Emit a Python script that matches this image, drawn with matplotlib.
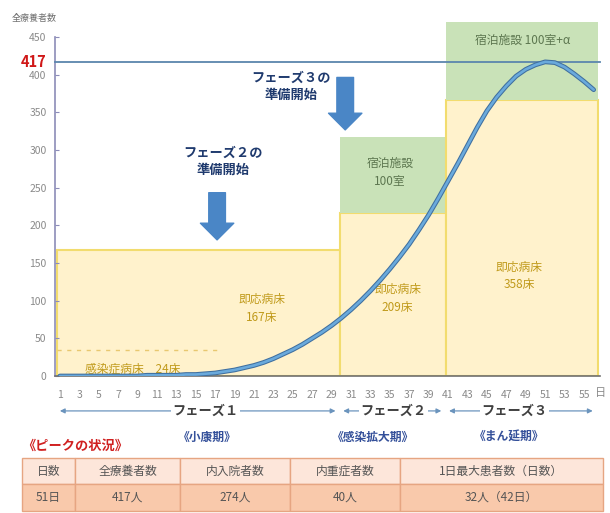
import matplotlib
matplotlib.use("Agg")
import matplotlib.pyplot as plt
from matplotlib.patches import Rectangle, FancyArrowPatch

plt.rcParams['font.family'] = ['Noto Sans CJK JP', 'DejaVu Sans']

# ---------------- data ----------------
days = list(range(1, 57))
patients = [0, 0, 0, 0, 0, 0, 0, 0, 0, 1,
            1, 1, 1, 2, 2, 3, 4, 6, 8, 11,
            14, 18, 23, 29, 35, 42, 50, 58, 67, 77,
            88, 100, 113, 127, 142, 158, 175, 194, 214, 236,
            259, 282, 306, 330, 352, 370, 385, 398, 407, 413,
            417, 416, 410, 401, 391, 380]
peak_value = 417
xtick_days = list(range(1, 56, 2))
yticks = [0, 50, 100, 150, 200, 250, 300, 350, 400, 450]

# phase boundaries (days)
phase_edges = [0.7, 29.9, 40.8, 56.4]
hospital_beds_top = [167, 217, 366]      # drawn heights of hospital-bed boxes
hotel_top = [None, 317, 470]             # drawn heights of hotel boxes
infection_beds_top = 34
infection_beds_end = 17.3
hospital_labels = ['即応病床\n167床', '即応病床\n209床', '即応病床\n358床']
hotel_labels = [None, '宿泊施設\n100室', '宿泊施設 100室+α']
infection_label = '感染症病床　24床'

phase_names = ['フェーズ１', 'フェーズ２', 'フェーズ３']
phase_periods = ['《小康期》', '《感染拡大期》', '《まん延期》']
prep_labels = ['フェーズ２の\n準備開始', 'フェーズ３の\n準備開始']
prep_days = [17.2, 30.4]
prep_arrow_from = [247, 400]
prep_arrow_to = [177, 323]

table_header = ['日数', '全療養者数', '内入院者数', '内重症者数', '1日最大患者数（日数）']
table_values = ['51日', '417人', '274人', '40人', '32人（42日）']

# ---------------- figure ----------------
W, H = 610, 513
fig = plt.figure(figsize=(W / 100, H / 100), dpi=100)
ax = fig.add_axes([55 / W, (H - 376) / H, 545 / W, 339 / H])
ax.set_xlim(0.5, 56.65)
ax.set_ylim(0, 450)

yellow_fill = '#fff2cc'
yellow_edge = '#f2dc6e'
green_fill = '#c9e2b8'
gold_text = '#c09a1a'
green_text = '#5d7750'

for i in range(3):
    x0, x1 = phase_edges[i], phase_edges[i + 1]
    ax.add_patch(Rectangle((x0, 0), x1 - x0, hospital_beds_top[i],
                           facecolor=yellow_fill, edgecolor=yellow_edge, lw=1.5, zorder=1))
    if hotel_top[i] is not None:
        ax.add_patch(Rectangle((x0, hospital_beds_top[i]), x1 - x0,
                               hotel_top[i] - hospital_beds_top[i],
                               facecolor=green_fill, edgecolor='none', zorder=1, clip_on=False))

# infection beds dashed line
ax.plot([phase_edges[0], infection_beds_end], [infection_beds_top, infection_beds_top],
        ls=(0, (3, 4)), color='#e8c870', lw=1, zorder=2)
ax.text(8.5, 9, infection_label, color=gold_text, fontsize=8.5, ha='center', va='center', zorder=3)

# box labels
ax.text(21.8, 90, hospital_labels[0], color=gold_text, fontsize=8.5, ha='center', va='center',
        linespacing=1.5, zorder=3)
ax.text(35.8, 103, hospital_labels[1], color=gold_text, fontsize=8.5, ha='center', va='center',
        linespacing=1.5, zorder=3)
ax.text(48.3, 133, hospital_labels[2], color=gold_text, fontsize=8.5, ha='center', va='center',
        linespacing=1.5, zorder=3)
ax.text(35.0, 270, hotel_labels[1], color=green_text, fontsize=8.5, ha='center', va='center',
        linespacing=1.5, zorder=3)
ax.text(48.7, 445, hotel_labels[2], color=green_text, fontsize=8.5, ha='center', va='center',
        zorder=3, clip_on=False)

# peak line
ax.axhline(peak_value, color='#5b86ad', lw=1.3, zorder=4, clip_on=False)
ax.text(-0.4, peak_value, str(peak_value), color='#d01818', fontsize=10.5, fontweight='bold',
        ha='right', va='center', transform=ax.transData, clip_on=False)

# curve
ax.plot(days, patients, color='#3f6f9f', lw=3.4, zorder=5, solid_capstyle='round')
ax.plot(days, patients, color='#6aaadc', lw=1.9, zorder=6, solid_capstyle='round')

# preparation arrows
for d, y0, y1 in zip(prep_days, prep_arrow_from, prep_arrow_to):
    arr = FancyArrowPatch((d, y0), (d, y1),
                          arrowstyle='simple,head_width=2.0,head_length=1.0,tail_width=1.0',
                          mutation_scale=12, facecolor='#4a86c6', edgecolor='#4a86c6', zorder=7)
    ax.add_patch(arr)
ax.text(17.8, 285, prep_labels[0], color='#1f3a6e', fontsize=9.5, fontweight='bold',
        ha='center', va='center', linespacing=1.3, zorder=7)
ax.text(24.8, 385, prep_labels[1], color='#1f3a6e', fontsize=9.5, fontweight='bold',
        ha='center', va='center', linespacing=1.3, zorder=7)

# axes styling
for s in ['top', 'right']:
    ax.spines[s].set_visible(False)
ax.spines['left'].set_color('#8c8cb8')
ax.spines['left'].set_linewidth(1.2)
ax.spines['bottom'].set_color('#707070')
ax.spines['bottom'].set_linewidth(1.2)
ax.set_yticks(yticks)
ax.set_yticklabels([str(v) for v in yticks], color='#8a8a8a', fontsize=7.5)
ax.tick_params(axis='y', direction='in', length=3, color='#8c8cb8', pad=6)
ax.set_xticks(xtick_days)
ax.set_xticklabels([str(v) for v in xtick_days], color='#8a8a8a', fontsize=7.5)
ax.tick_params(axis='x', length=0, pad=10)
ax.text(56.1, -0.05, '日', transform=ax.get_xaxis_transform(), color='#8a8a8a', fontsize=8,
        ha='left', va='center', clip_on=False)
fig.text(12 / W, 1 - 18 / H, '全療養者数', color='#707070', fontsize=6.5, ha='left', va='center')

# phase arrows row
tr = ax.get_xaxis_transform()
phase_text_x = [16.0, 35.4, 47.8]
period_text_x = [16.2, 33.3, 47.3]
row_y = -0.103
for i in range(3):
    x0, x1 = phase_edges[i] + 0.3, phase_edges[i + 1] - 0.5
    if i == 0:
        x0 = 1.0
    ax.annotate('', xy=(x0, row_y), xytext=(x1, row_y), xycoords=tr, textcoords=tr,
                arrowprops=dict(arrowstyle='<|-|>', color='#6b94bd', lw=0.9,
                                mutation_scale=7, shrinkA=0, shrinkB=0), annotation_clip=False)
    ax.text(phase_text_x[i], row_y, phase_names[i], transform=tr, color='#404040', fontsize=9.5,
            fontweight='bold', ha='center', va='center', clip_on=False,
            bbox=dict(facecolor='white', edgecolor='none', pad=1.0))
    ax.text(period_text_x[i], -0.18, phase_periods[i], transform=tr, color='#34509a', fontsize=8.5,
            fontweight='bold', ha='center', va='center', clip_on=False)

fig.text(22 / W, 1 - 446 / H, '《ピークの状況》', color='#d02020', fontsize=9.5, fontweight='bold',
         ha='left', va='center')

# table
tab = fig.add_axes([22 / W, (H - 511) / H, 581 / W, 53 / H])
tab.set_xlim(0, 581)
tab.set_ylim(53, 0)
tab.axis('off')
col_edges = [0, 53, 158, 268, 378, 581]
row_edges = [0, 26, 53]
row_fills = ['#fde6da', '#f9c9ab']
rows = [table_header, table_values]
for r in range(2):
    for c in range(5):
        tab.add_patch(Rectangle((col_edges[c], row_edges[r]), col_edges[c + 1] - col_edges[c],
                                row_edges[r + 1] - row_edges[r], facecolor=row_fills[r],
                                edgecolor='#e6a582', lw=1.0, clip_on=False))
        tab.text((col_edges[c] + col_edges[c + 1]) / 2, (row_edges[r] + row_edges[r + 1]) / 2,
                 rows[r][c], color='#555555', fontsize=8.5, ha='center', va='center')

fig.savefig('out.png', dpi=100)
